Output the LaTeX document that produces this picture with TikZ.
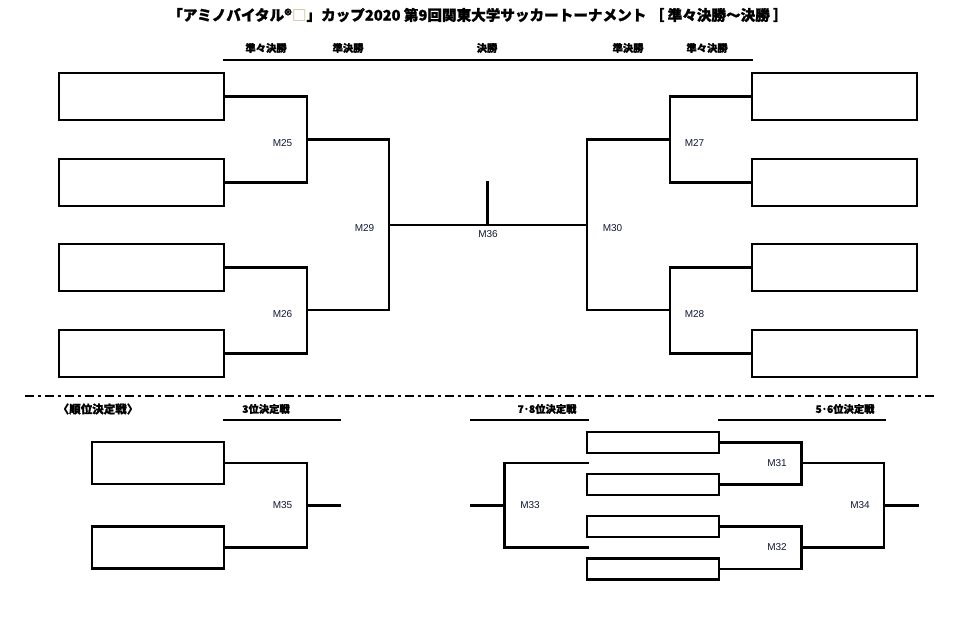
\documentclass[tikz,border=0pt]{standalone}
\usepackage{fontspec}
\newfontfamily\cjk{Noto Sans CJK JP}[BoldFeatures={FakeBold=1.2}]
\newfontfamily\lab{Liberation Sans}
\definecolor{labcol}{RGB}{15,25,55}
\definecolor{tofu}{RGB}{215,205,170}
\begin{document}
\begin{tikzpicture}[x=1pt,y=-1pt,
  line/.style={line width=2.4pt,line cap=rect},
  teambox/.style={draw,line width=2.4pt,inner sep=0pt,outer sep=0pt,minimum width=165pt,minimum height=47pt},
  smallbox/.style={teambox,minimum width=132pt,minimum height=42pt},
  tinybox/.style={teambox,minimum width=132pt,minimum height=21pt},
  mlabel/.style={font=\lab\fontsize{10}{10}\selectfont,text=labcol,inner sep=0pt},
  head/.style={font=\cjk\bfseries\fontsize{10.3}{10.3}\selectfont,inner sep=0pt},
  titletext/.style={font=\cjk\bfseries\fontsize{14.6}{14.6}\selectfont,inner sep=0pt}]
\useasboundingbox (0,0) rectangle (958,634);
\fill[white] (0,0) rectangle (958,634);

% title
\node[titletext] (title) at (478,15) {「アミノバイタル®\textcolor{tofu}{□}」カップ2020 第9回関東大学サッカートーナメント ［ 準々決勝～決勝 ］};

% headers
\node[head] (h1) at (266,48) {準々決勝};
\node[head] (h2) at (348,48) {準決勝};
\node[head] (h3) at (487,48) {決勝};
\node[head] (h4) at (628,48) {準決勝};
\node[head] (h5) at (707,48) {準々決勝};
\coordinate (hl1) at (224,60);
\coordinate (hl2) at (752,60);
\draw[line] (hl1) -- (hl2);

% left boxes
\node[teambox] (L1) at (141.5,96.3) {};
\node[teambox] (L2) at (141.5,182.3) {};
\node[teambox] (L3) at (141.5,267.5) {};
\node[teambox] (L4) at (141.5,353.5) {};
% right boxes
\node[teambox] (R1) at (834.5,96.3) {};
\node[teambox] (R2) at (834.5,182.3) {};
\node[teambox] (R3) at (834.5,267.5) {};
\node[teambox] (R4) at (834.5,353.5) {};

\coordinate (j25) at (307,139.5);
\coordinate (j26) at (307,310);
\coordinate (j29) at (389,225);
\coordinate (j27) at (670,139.5);
\coordinate (j28) at (670,310);
\coordinate (j30) at (587,225);
\coordinate (s36) at (487.5,182);

\draw[line] (L1.east) -| (j25) |- (L2.east);
\draw[line] (L3.east) -| (j26) |- (L4.east);
\draw[line] (j25) -| (j29) |- (j26);
\draw[line] (R1.west) -| (j27) |- (R2.west);
\draw[line] (R3.west) -| (j28) |- (R4.west);
\draw[line] (j27) -| (j30) |- (j28);
\draw[line] (j29) -- (j30);
\draw[line] (s36) -- (s36 |- j29);

\node[mlabel] (m25) at (282.5,143) {M25};
\node[mlabel] (m26) at (282.5,314) {M26};
\node[mlabel] (m29) at (364.5,228) {M29};
\node[mlabel] (m36) at (488,234) {M36};
\node[mlabel] (m30) at (612.5,228) {M30};
\node[mlabel] (m27) at (694.5,143) {M27};
\node[mlabel] (m28) at (694.5,314) {M28};

% separator
\coordinate (d1) at (25,396);
\coordinate (d2) at (935,396);
\draw[line width=2.2pt,dash pattern=on 9pt off 4pt on 3pt off 4pt] (d1) -- (d2);

% lower headers
\node[font=\cjk\bfseries\fontsize{11.5}{11.5}\selectfont,inner sep=0pt] (rank) at (98,409) {〈順位決定戦〉};
\node[head] (h35) at (266,409) {3位決定戦};
\node[head] (h78) at (547,409) {7･8位決定戦};
\node[head] (h56) at (845,409) {5･6位決定戦};
\coordinate (u1a) at (224,420);
\coordinate (u1b) at (340,420);
\coordinate (u2a) at (471.5,420);
\coordinate (u2b) at (587.5,420);
\coordinate (u3a) at (719,420);
\coordinate (u3b) at (885,420);
\draw[line] (u1a) -- (u1b);
\draw[line] (u2a) -- (u2b);
\draw[line] (u3a) -- (u3b);

% 3rd place
\node[smallbox] (T1) at (158,463) {};
\node[smallbox] (T2) at (158,547.5) {};
\coordinate (j35) at (307,505.5);
\coordinate (o35) at (340,505.5);
\draw[line] (T1.east) -| (j35) |- (T2.east);
\draw[line] (j35) -- (o35);
\node[mlabel] (m35) at (282.5,505.5) {M35};

% 5-8
\node[tinybox] (P1) at (653,442.5) {};
\node[tinybox] (P2) at (653,484.5) {};
\node[tinybox] (P3) at (653,526.5) {};
\node[tinybox] (P4) at (653,569) {};
\coordinate (j31) at (801.5,463);
\coordinate (j32) at (801.5,547.5);
\coordinate (j34) at (884,505.5);
\coordinate (o34) at (917.5,505.5);
\draw[line] (P1.east) -| (j31) |- (P2.east);
\draw[line] (P3.east) -| (j32) |- (P4.east);
\draw[line] (j31) -| (j34) |- (j32);
\draw[line] (j34) -- (o34);
\coordinate (a33t) at (587.5,463);
\coordinate (a33b) at (587.5,547.5);
\coordinate (j33) at (504.5,505.5);
\coordinate (o33) at (471.5,505.5);
\draw[line] (a33t) -| (j33) |- (a33b);
\draw[line] (o33) -- (j33);
\node[mlabel] (m31) at (777,463) {M31};
\node[mlabel] (m32) at (777,547.5) {M32};
\node[mlabel] (m34) at (860,505.5) {M34};
\node[mlabel] (m33) at (530,505.5) {M33};
\end{tikzpicture}
\end{document}
